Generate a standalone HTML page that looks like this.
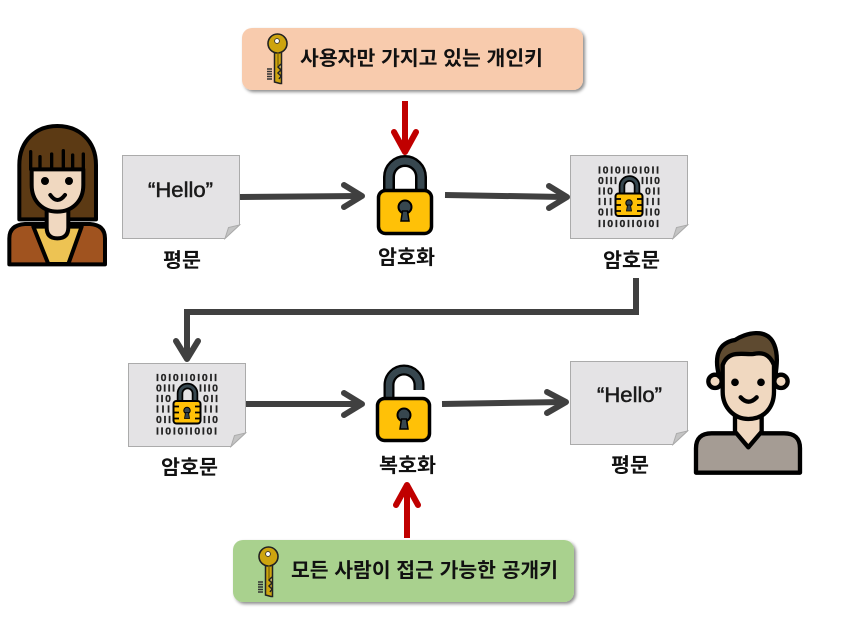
<!DOCTYPE html>
<html lang="ko">
<head>
<meta charset="utf-8">
<style>
html,body{margin:0;padding:0;background:#fff;width:850px;height:636px;overflow:hidden}
svg{display:block}
.k{font-family:"Liberation Sans","Noto Sans CJK KR",sans-serif;font-weight:700;font-size:20px;fill:#111}
.h{font-family:"Liberation Sans",sans-serif;font-size:21px;fill:#1a1a1a;stroke:#1a1a1a;stroke-width:.5}
.b{font-family:"Liberation Sans",sans-serif;font-weight:700;font-size:10.5px;fill:#222;stroke:#222;stroke-width:.25}
</style>
</head>
<body>
<svg width="850" height="636" viewBox="0 0 850 636" xmlns="http://www.w3.org/2000/svg">
<defs>
<filter id="sh" x="-5%" y="-15%" width="110%" height="135%">
<feDropShadow dx="2" dy="2" stdDeviation="1.6" flood-color="#000" flood-opacity=".45"/>
</filter>
</defs>

<!-- panels -->
<rect x="242" y="28" width="341" height="62" rx="10" fill="#F8CBAD" filter="url(#sh)"/>
<rect x="233" y="540" width="341" height="62" rx="10" fill="#A9D18E" filter="url(#sh)"/>

<!-- key 1 -->
<g>
<path d="M274.5,50 V82 L280,83.5 H281.5 V50 Z" fill="#CDA40F" stroke="#222" stroke-width="1.5"/>
<path d="M281,64 l-3,3 3,3 -3,3 3,3 -2,3" fill="#fff8" stroke="#222" stroke-width="1.5"/>
<circle cx="277.5" cy="43.5" r="9.5" fill="#CDA40F" stroke="#222" stroke-width="1.6"/>
<circle cx="277" cy="41" r="2.4" fill="#fff" stroke="#333" stroke-width=".9"/>
<path d="M278,52 V66" stroke="#7a6206" stroke-width="1.2"/>
<path d="M267,69 h5 M267,71.5 h5 M267,74 h5 M267,76.5 h5 M267,79 h5" stroke="#333" stroke-width="1.5"/>
</g>
<!-- key 2 -->
<g transform="translate(-9,513)">
<path d="M274.5,50 V82 L280,83.5 H281.5 V50 Z" fill="#CDA40F" stroke="#222" stroke-width="1.5"/>
<path d="M281,64 l-3,3 3,3 -3,3 3,3 -2,3" fill="#fff8" stroke="#222" stroke-width="1.5"/>
<circle cx="277.5" cy="43.5" r="9.5" fill="#CDA40F" stroke="#222" stroke-width="1.6"/>
<circle cx="277" cy="41" r="2.4" fill="#fff" stroke="#333" stroke-width=".9"/>
<path d="M278,52 V66" stroke="#7a6206" stroke-width="1.2"/>
<path d="M267,69 h5 M267,71.5 h5 M267,74 h5 M267,76.5 h5 M267,79 h5" stroke="#333" stroke-width="1.5"/>
</g>

<text class="k" x="300" y="65" textLength="243" lengthAdjust="spacingAndGlyphs">사용자만 가지고 있는 개인키</text>
<text class="k" x="291" y="577" textLength="267" lengthAdjust="spacingAndGlyphs">모든 사람이 접근 가능한 공개키</text>

<!-- documents -->
<g stroke="#ABABAB" stroke-width="1">
<path d="M122.5,155.5 H239.5 V225 L225,238.5 H122.5 Z" fill="#E4E3E5"/>
<path d="M570.5,155.5 H687.5 V225 L673,238.5 H570.5 Z" fill="#E4E3E5"/>
<path d="M128.5,363.5 H245.5 V433 L231,446.5 H128.5 Z" fill="#E4E3E5"/>
<path d="M570.5,361.5 H687.5 V431 L673,444.5 H570.5 Z" fill="#E4E3E5"/>
<path d="M239.5,225 L228.5,227.5 L225,238.5 Z" fill="#C4C4C4"/>
<path d="M687.5,225 L676.5,227.5 L673,238.5 Z" fill="#C4C4C4"/>
<path d="M245.5,433 L234.5,435.5 L231,446.5 Z" fill="#C4C4C4"/>
<path d="M687.5,431 L676.5,433.5 L673,444.5 Z" fill="#C4C4C4"/>
</g>

<text class="h" x="148" y="197" textLength="65" lengthAdjust="spacingAndGlyphs">“Hello”</text>
<text class="h" x="597" y="402" textLength="65" lengthAdjust="spacingAndGlyphs">“Hello”</text>

<!-- cipher icon top -->
<g>
<text class="b" x="598" y="173.5" textLength="61">I0I0II0I0II</text>
<text class="b" x="598" y="184" textLength="19">0III</text>
<text class="b" x="641" y="184" textLength="19">III0</text>
<text class="b" x="598" y="194.5" textLength="15">II0</text>
<text class="b" x="645" y="194.5" textLength="15">0II</text>
<text class="b" x="598" y="205" textLength="14">III</text>
<text class="b" x="646" y="205" textLength="14">III</text>
<text class="b" x="598" y="215.5" textLength="15">0II</text>
<text class="b" x="645" y="215.5" textLength="15">II0</text>
<text class="b" x="598" y="227" textLength="61">II0I0II0I0I</text>
<path d="M622,195 V186 A7.5,7.5 0 0 1 637,186 V195" fill="none" stroke="#000" stroke-width="6.5"/>
<path d="M622,195 V186 A7.5,7.5 0 0 1 637,186 V195" fill="none" stroke="#37474F" stroke-width="3"/>
<rect x="615.5" y="193.5" width="27" height="22.5" rx="3" fill="#FFC107" stroke="#000" stroke-width="2"/>
<path d="M615,199 h6 M615,205 h6 M615,211 h6 M637,199 h6 M637,205 h6 M637,211 h6" stroke="#000" stroke-width="1.8"/>
<circle cx="629" cy="203" r="3.2" fill="#37474F" stroke="#000"/>
<path d="M627.5,205 h3 l1,6 h-5 Z" fill="#37474F" stroke="#000" stroke-width=".8"/>
</g>
<!-- cipher icon bottom -->
<g transform="translate(-442,207.5)">
<text class="b" x="598" y="173.5" textLength="61">I0I0II0I0II</text>
<text class="b" x="598" y="184" textLength="19">0III</text>
<text class="b" x="641" y="184" textLength="19">III0</text>
<text class="b" x="598" y="194.5" textLength="15">II0</text>
<text class="b" x="645" y="194.5" textLength="15">0II</text>
<text class="b" x="598" y="205" textLength="14">III</text>
<text class="b" x="646" y="205" textLength="14">III</text>
<text class="b" x="598" y="215.5" textLength="15">0II</text>
<text class="b" x="645" y="215.5" textLength="15">II0</text>
<text class="b" x="598" y="227" textLength="61">II0I0II0I0I</text>
<path d="M622,195 V186 A7.5,7.5 0 0 1 637,186 V195" fill="none" stroke="#000" stroke-width="6.5"/>
<path d="M622,195 V186 A7.5,7.5 0 0 1 637,186 V195" fill="none" stroke="#37474F" stroke-width="3"/>
<rect x="615.5" y="193.5" width="27" height="22.5" rx="3" fill="#FFC107" stroke="#000" stroke-width="2"/>
<path d="M615,199 h6 M615,205 h6 M615,211 h6 M637,199 h6 M637,205 h6 M637,211 h6" stroke="#000" stroke-width="1.8"/>
<circle cx="629" cy="203" r="3.2" fill="#37474F" stroke="#000"/>
<path d="M627.5,205 h3 l1,6 h-5 Z" fill="#37474F" stroke="#000" stroke-width=".8"/>
</g>

<!-- closed lock -->
<path d="M389,193 V177 A16,16 0 0 1 421,177 V193" fill="none" stroke="#000" stroke-width="12"/>
<path d="M389,193 V177 A16,16 0 0 1 421,177 V193" fill="none" stroke="#37474F" stroke-width="7"/>
<rect x="378.5" y="190.5" width="53" height="43" rx="7" fill="#FFC107" stroke="#000" stroke-width="3.5"/>
<circle cx="405" cy="207" r="6.5" fill="#37474F" stroke="#000" stroke-width="2"/>
<path d="M402.5,211 h5 l1.5,10 h-8 Z" fill="#37474F" stroke="#000" stroke-width="1.5"/>

<!-- open lock -->
<path d="M389,400 V385 A15,15 0 0 1 419,385 V390" fill="none" stroke="#000" stroke-width="11"/>
<path d="M389,400 V385 A15,15 0 0 1 419,385 V390" fill="none" stroke="#37474F" stroke-width="6.5"/>
<rect x="377.5" y="398.5" width="52" height="42" rx="7" fill="#FFC107" stroke="#000" stroke-width="3.5"/>
<circle cx="404" cy="415" r="6.5" fill="#37474F" stroke="#000" stroke-width="2"/>
<path d="M401.5,419 h5 l1.5,10 h-8 Z" fill="#37474F" stroke="#000" stroke-width="1.5"/>

<!-- labels -->
<text class="k" x="163" y="267" textLength="38" lengthAdjust="spacingAndGlyphs">평문</text>
<text class="k" x="378" y="264" textLength="57" lengthAdjust="spacingAndGlyphs">암호화</text>
<text class="k" x="603" y="267" textLength="57" lengthAdjust="spacingAndGlyphs">암호문</text>
<text class="k" x="161" y="474" textLength="57" lengthAdjust="spacingAndGlyphs">암호문</text>
<text class="k" x="379" y="472" textLength="57" lengthAdjust="spacingAndGlyphs">복호화</text>
<text class="k" x="611" y="472" textLength="38" lengthAdjust="spacingAndGlyphs">평문</text>

<!-- grey arrows -->
<g fill="none" stroke="#404040" stroke-width="6" stroke-linecap="round" stroke-linejoin="round">
<path d="M240,197 L360,196" stroke-linecap="butt"/>
<path d="M344,185 L362,196 L344,207"/>
<path d="M445,195 L564,197" stroke-linecap="butt"/>
<path d="M549,186 L567,197 L549,208"/>
<path d="M636,278 V312 H187 V356" stroke-linecap="butt" stroke-linejoin="miter"/>
<path d="M176,341 L187,359 L198,341"/>
<path d="M246,404 L360,404" stroke-linecap="butt"/>
<path d="M344,393 L362,404 L344,415"/>
<path d="M442,404 L564,402" stroke-linecap="butt"/>
<path d="M547,392 L566,402 L547,413"/>
</g>

<!-- red arrows -->
<g fill="none" stroke="#C00000" stroke-width="6" stroke-linecap="round" stroke-linejoin="round">
<path d="M405,101 V150" stroke-linecap="butt"/>
<path d="M394,132 L405,152 L416,132"/>
<path d="M407,538 V487" stroke-linecap="butt"/>
<path d="M396,505 L407,485 L418,505"/>
</g>

<!-- woman -->
<g transform="translate(0,110) scale(.3333)" stroke="#000" stroke-width="12" stroke-linejoin="round" stroke-linecap="round">
<path d="M58,328 V165 C58,90 110,48 172,48 C235,48 288,90 288,165 V328 Z" fill="#5C3A14"/>
<path d="M28,463 V385 Q28,345 75,342 H270 Q315,345 315,385 V463 Z" fill="#A0531F"/>
<path d="M100,350 L145,462 H205 L245,350 Z" fill="#EDC353"/>
<path d="M140,290 V352 Q140,385 172,385 Q205,385 205,352 V290 Z" fill="#F0D8C0"/>
<path d="M95,178 V225 C95,275 130,305 172,305 C215,305 250,275 250,225 V178 Z" fill="#F0D8C0"/>
<g stroke-width="10" fill="none">
<path d="M92,125 V178 M120,140 V176 M155,132 V176 M190,122 V176 M218,135 V176 M250,132 V178"/>
</g>
<circle cx="135" cy="213" r="6" fill="#000"/>
<circle cx="207" cy="213" r="6" fill="#000"/>
<path d="M151,255 Q172,285 195,255" fill="none"/>
</g>

<!-- man -->
<g transform="translate(680,320) scale(.3333)" stroke="#000" stroke-width="13" stroke-linejoin="round" stroke-linecap="round">
<path d="M48,458 V385 Q48,340 95,340 H312 Q360,340 360,385 V458 Z" fill="#A59C94"/>
<path d="M165,285 V335 L205,382 L245,335 V285 Z" fill="#F0D8C0"/>
<circle cx="105" cy="184" r="20" fill="#F0D8C0"/>
<circle cx="303" cy="184" r="20" fill="#F0D8C0"/>
<path d="M118,170 C100,105 118,68 165,60 C195,40 262,20 283,75 C295,105 290,140 286,170 Z" fill="#5E4A30"/>
<path d="M128,135 V215 C128,265 165,297 205,297 C250,297 282,265 282,215 V135 C270,105 250,95 220,102 C190,105 145,88 128,135 Z" fill="#F0D8C0"/>
<circle cx="165" cy="187" r="5" fill="#000"/>
<circle cx="243" cy="187" r="5" fill="#000"/>
<path d="M182,232 Q205,258 230,232" fill="none"/>
</g>
</svg>
</body>
</html>
